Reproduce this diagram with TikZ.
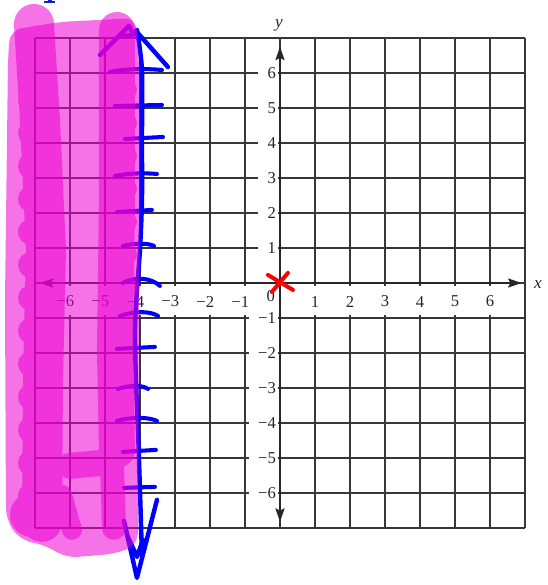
\documentclass[tikz,border=0pt]{standalone}
\usepackage{fontspec}
\setmainfont{Liberation Serif}
\usetikzlibrary{arrows.meta}
\definecolor{gridc}{RGB}{55,55,55}
\definecolor{hl}{RGB}{238,0,210}
\definecolor{pen}{RGB}{0,0,255}
\definecolor{redpen}{RGB}{255,0,0}
\definecolor{inkfrag}{RGB}{25,25,200}
\newdimen\pxu \pxu=0.8129pt
\tikzset{
  gridline/.style={draw=gridc, line width=1.1pt},
  axisline/.style={draw=black!85, line width=1.1pt,
    {Stealth[length=11pt,width=7.5pt,inset=2pt]}-{Stealth[length=11pt,width=7.5pt,inset=2pt]}},
  lab/.style={font=\fontsize{13.5}{16}\selectfont, text=black!85, inner sep=0pt},
  axlab/.style={font=\fontsize{14}{16}\selectfont\itshape, text=black!85, inner sep=0pt},
  bluepen/.style={draw=pen, line width=3.6pt, line cap=round, line join=round},
  bluetick/.style={draw=pen, line width=3.3pt, line cap=round, line join=round},
  redx/.style={draw=redpen, line width=3.3pt, line cap=round},
  hlstroke/.style={draw=hl, line cap=round, line join=round},
  pxscope/.style={x=0.028571cm, y=-0.028571cm, shift={(-8cm,8.0857cm)}}
}
\begin{document}
\begin{tikzpicture}
\useasboundingbox (-8,-8.6286) rectangle (7.6571,8.0857);
\fill[white] (-8,-8.6286) rectangle (7.6571,8.0857);
% grid
\foreach \i in {-7,...,7} {
  \draw[gridline] (\i,-7) -- (\i,7);
  \draw[gridline] (-7,\i) -- (7,\i);
}
% white gaps behind the labels
\foreach \k in {1,...,6} {
  \fill[white] (\k-0.25,-0.08) rectangle (\k+0.25,-0.92);
  \fill[white] (-\k-0.25,-0.08) rectangle (-\k+0.25,-0.92);
  \fill[white] (-0.63,\k-0.16) rectangle (-0.05,\k+0.16);
  \fill[white] (-0.88,-\k-0.16) rectangle (-0.05,-\k+0.16);
}
% axes
\coordinate (xw) at (-6.86,0);
\coordinate (xe) at (6.9,0);
\coordinate (ys) at (0,-6.82);
\coordinate (yn) at (0,6.75);
\draw[axisline] (xw) -- (xe);
\draw[axisline] (ys) -- (yn);
% tick labels
\foreach \k in {1,...,6} {
  \node[lab] (xp\k) at (\k,-0.53) {\k};
  \node[lab] (xn\k) at (-\k,-0.53) {\llap{−}\k};
  \node[lab, anchor=east] (yp\k) at (-0.11,\k) {\k};
  \node[lab, anchor=east] (yn\k) at (-0.11,-\k) {−\k};
}
\node[lab] (orig) at (-0.26,-0.37) {0};
\node[axlab] (xlab) at (7.37,-0.05) {x};
\node[axlab] (ylab) at (-0.03,7.37) {y};
% hand-drawn parts (pixel coordinates)
\begin{scope}[pxscope]
  % blue line x = -4 with arrowheads
  \draw[bluepen] plot[smooth] coordinates {(137,30) (142,70) (142,140) (142,200) (140,250) (137,290) (135,330) (136,380) (138,430) (140,490) (142,556)};
  \draw[bluepen] (100,55) -- (129,26) -- (134,35) -- (124,36);
  \draw[bluepen] (136,31) -- (168,67);
  \draw[bluepen] (124,521) -- (137,578) -- (157,500);
  \draw[bluepen] (127,535) -- (137,557) -- (143,540);
  % ticks
  \draw[bluetick] (110,72) .. controls (130,68) and (150,69) .. (162,70);
  \draw[bluetick] (115,106) -- (162,105);
  \draw[bluetick] (125,139) -- (163,137);
  \draw[bluetick] (115,176) .. controls (130,173) and (145,173) .. (157,174);
  \draw[bluetick] (117,212) -- (152,210);
  \draw[bluetick] (123,246) .. controls (135,243) and (148,243) .. (154,246);
  \draw[bluetick] (123,283) .. controls (135,277) and (150,277) .. (160,286);
  \draw[bluetick] (120,316) .. controls (135,311) and (150,311) .. (158,316);
  \draw[bluetick] (117,349) -- (155,347);
  \draw[bluetick] (118,389) .. controls (130,385) and (142,385) .. (148,389);
  \draw[bluetick] (117,421) .. controls (132,417) and (148,417) .. (157,421);
  \draw[bluetick] (123,452) -- (156,450);
  \draw[bluetick] (124,488) -- (155,487);
  % red cross at the origin
  \draw[redx] (268,275) -- (293,290);
  \draw[redx] (288,273) -- (272,292);
  % highlighter, first layer
  \begin{scope}[transparency group, opacity=0.55]
    \fill[hl, rounded corners=12\pxu] (10,30) -- (60,22) -- (136,18) -- (139,60) -- (139,300) -- (138,545) -- (115,554) -- (65,558) -- (48,546) -- (20,540) -- (6,520) -- (5,300) -- (8,60) -- cycle;
  \end{scope}
  % highlighter, second layer
  \begin{scope}[transparency group, opacity=0.55]
    \draw[hlstroke, line width=40\pxu] (34,24) -- (40,120) -- (46,250) -- (43,380) -- (42,522);
    \draw[hlstroke, line width=36\pxu] (117,30) -- (117,200) -- (115,350) -- (117,450);
    \draw[hlstroke, line width=24\pxu] (112,465) -- (114,528);
    \draw[hlstroke, line width=26\pxu] (70,466) -- (112,462);
    \draw[hlstroke, line width=20\pxu] (62,495) -- (72,530);
    \foreach \yy in {100,133,...,496} \fill[hl] (31,\yy) circle[radius=13];
    \foreach \yy in {90,123,...,290} \fill[hl] (127,\yy) circle[radius=10];
    \fill[hl] (32,515) circle[radius=22];
  \end{scope}
  % fragment of ink at the top edge
  \fill[inkfrag] (44,1.5) rectangle (55,3.5);
  \fill[inkfrag] (48,0) rectangle (52,3);
\end{scope}
\end{tikzpicture}
\end{document}
